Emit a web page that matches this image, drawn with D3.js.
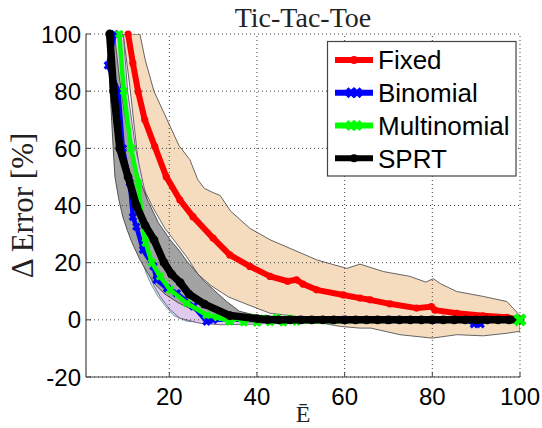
<!DOCTYPE html>
<html><head><meta charset="utf-8">
<script src="https://cdn.jsdelivr.net/npm/d3@7"></script>
<style>body{margin:0;background:#fff}</style>
</head><body>
<svg id="chart" width="542" height="428"></svg>
<script>
// ---------- data ----------
const chartTitle = "Tic-Tac-Toe";
const xLabel = "Ē";
const yLabel = "Δ Error [%]";
const xTicks = [20, 40, 60, 80, 100];
const yTicks = [-20, 0, 20, 40, 60, 80, 100];
const seriesNames = ["Fixed", "Binomial", "Multinomial", "SPRT"];

// Fixed
const fixedX = [10.6, 11.7, 12.9, 14.4, 16.7, 19.3, 22.4, 25.4, 30, 33.8, 38.4, 43, 47, 49, 50.5, 53.6, 59.7, 63.5, 65.8, 70.3, 76.4, 79.8, 80.6, 85.6, 91.6, 97, 100];
const fixedY = [100, 89.8, 79.8, 70, 60.6, 50.1, 42, 36.1, 28.6, 22.7, 18.7, 15.2, 13.5, 14, 12.5, 10.5, 8.7, 7.6, 7, 5.6, 4.1, 4.6, 3.4, 2.3, 1.4, 0.9, 0];
const fixedUpX = [13.3, 14.5, 16.5, 19.5, 22.2, 24.7, 26.5, 28, 30, 31.6, 34, 38.4, 43, 48.3, 53.6, 57, 60.5, 63.5, 68.8, 74.9, 78.5, 80.2, 82, 85.6, 91.6, 97, 99.5, 100];
const fixedUpY = [100, 91, 80, 70, 61, 56, 49, 46, 44.5, 43.5, 38, 32, 28, 24.5, 21, 19.5, 18, 19.5, 16.9, 15.2, 13.2, 14.4, 12.5, 9.9, 8.2, 6.4, 2.3, 1.5];
const fixedLoX = [9.5, 11, 12.6, 13.6, 16, 19, 21.5, 24, 26.5, 29.5, 33.5, 38.4, 43, 49, 55, 59, 63.5, 66, 72.6, 80, 85.6, 91.6, 97, 100];
const fixedLoY = [100, 81.6, 59.5, 47.8, 40, 32, 27, 22, 16, 12, 8, 5, 2.3, 1.2, -1.2, -2.3, -2.9, -2.9, -5.2, -6.4, -5.2, -5.6, -4.7, -4];

// Binomial
const binX = [7.5, 6, 8.4, 9.4, 11, 11.7, 12.5, 14, 16.4, 17.1, 19.5, 21.7, 25.5, 28.5, 30, 40, 50, 60, 70, 80, 88, 89.5, 91, 92, 100];
const binY = [100, 89, 80, 60, 48, 36, 32.6, 24.5, 18.7, 14, 11, 9.3, 4.7, -0.6, 0, 0, 0, 0, 0, 0, 0, -1.5, -1.5, 0, 0];
const binUpX = [8.5, 9.8, 11.5, 13.5, 15, 17, 19.5, 22.5, 26, 30, 35, 100];
const binUpY = [100, 80, 60, 45, 35, 25, 17, 10, 5, 1.5, 0.5, 0.5];
const binLoX = [7, 8, 9.5, 11, 12.5, 13.5, 14.8, 16, 17.3, 19, 21, 24, 30, 100];
const binLoY = [100, 80, 60, 45, 30, 22, 16, 12, 8.5, 5, 1.5, -0.5, -1.2, -0.5];

// Multinomial
const multX = [8.6, 9.6, 11.3, 12.9, 13.8, 14.6, 16, 17.9, 20.2, 24, 28.5, 31, 33.8, 35.5, 37, 38.5, 40, 41.5, 43, 44.5, 46, 47.5, 49, 100];
const multY = [100, 80, 60, 47.8, 35, 27, 20, 15.2, 10.5, 5.8, 1.7, 0.9, -0.6, 0.6, -0.9, 0.7, -1, 0.5, -0.8, 0.7, -0.9, 0.4, -0.6, 0];
const multUpX = [9.5, 10.5, 12.3, 14, 15.5, 17.5, 19.5, 22, 25, 29, 34, 50];
const multUpY = [100, 80, 60, 48, 38, 28, 21, 14, 8, 3.5, 1, 0.5];
const multLoX = [7.5, 8.2, 9.5, 11, 12.8, 14.8, 16.5, 17.9, 20.2, 22.4, 27, 31.6, 40, 50];
const multLoY = [100, 80, 60, 45, 30, 18, 12, 8.2, 3.5, 0.6, -1.2, -1.7, -1.5, -0.5];

// SPRT
const sprtX = [6.4, 7.3, 8.7, 10.6, 12.5, 14.5, 16.5, 18.8, 20.5, 22.5, 24.5, 28, 33.8, 40, 42.5, 45, 47.5, 50, 52.5, 55, 57.5, 60, 62.5, 65, 67.5, 70, 72.5, 75, 77.5, 80, 82.5, 85, 87.5, 90, 92.5, 95, 97.5, 100];
const sprtY = [100, 80, 60, 50, 40, 33, 28, 20, 16, 13, 9, 5.5, 1.5, 0.4, 0.1, 0, 0, 0, 0, 0, 0, 0, 0, 0, 0, 0, 0, 0, 0, 0, 0, 0, 0, 0, 0, 0, 0, 0];
const sprtUpX = [7.5, 8.6, 10, 11.5, 13, 15, 17.5, 20.2, 22.4, 24, 28, 33, 36, 40, 50, 100];
const sprtUpY = [100, 85, 70, 60, 50, 42, 34, 28, 24, 20.5, 13.5, 6.5, 3, 1.5, 0.8, 0.5];
const sprtLoX = [5.8, 6.5, 7.2, 7.6, 8.5, 9.4, 10.5, 11.5, 13.3, 15.2, 17, 19, 22, 26, 30, 35, 45, 55, 100];
const sprtLoY = [100, 80, 60, 50, 42, 36, 31, 27, 21, 16, 12, 9, 6, 3, 1, -0.5, -1.2, -0.8, -0.5];

// ---------- drawing ----------
const svg = d3.select("#chart");
const plot = {l: 86, r: 520, t: 34, b: 377};
const x = d3.scaleLinear().domain([1, 100]).range([plot.l, plot.r]);
const y = d3.scaleLinear().domain([-20, 100]).range([plot.b, plot.t]);
const sans = "Arial, 'Liberation Sans', Helvetica, sans-serif";
const serif = "'Times New Roman', 'Liberation Serif', Times, serif";

svg.append("defs").append("clipPath").attr("id", "clip")
  .append("rect").attr("x", plot.l).attr("y", plot.t)
  .attr("width", plot.r - plot.l).attr("height", plot.b - plot.t);

const zip = (xs, ys) => xs.map((v, i) => [v, ys[i]]);
const line = d3.line().x(d => x(d[0])).y(d => y(d[1]));

const bands = [
  {up: zip(fixedUpX, fixedUpY), lo: zip(fixedLoX, fixedLoY), fill: "#F5DCBE", stroke: "#555"},
  {up: zip(binUpX, binUpY), lo: zip(binLoX, binLoY), fill: "#C6EEF2", stroke: "#6a8a90"},
  {up: zip(multUpX, multUpY), lo: zip(multLoX, multLoY), fill: "#E0CBEF", stroke: "#6a5a78"},
  {up: zip(sprtUpX, sprtUpY), lo: zip(sprtLoX, sprtLoY), fill: "#A3A3A3", stroke: "#444"}
];
const gb = svg.append("g").attr("clip-path", "url(#clip)");
bands.forEach(b => {
  gb.append("path")
    .attr("d", line(b.up.concat(b.lo.slice().reverse())) + "Z")
    .attr("fill", b.fill).attr("stroke", b.stroke).attr("stroke-width", 0.9);
});

// grid (dotted), incl. top and right borders
const gg = svg.append("g").attr("stroke", "#444").attr("stroke-width", 1)
  .attr("stroke-dasharray", "1,3");
xTicks.forEach(t => gg.append("line").attr("x1", x(t)).attr("x2", x(t))
  .attr("y1", plot.b).attr("y2", plot.t));
yTicks.forEach(t => gg.append("line").attr("x1", plot.l).attr("x2", plot.r)
  .attr("y1", y(t)).attr("y2", y(t)));

// series lines + markers
const xMark = s => `M${-s},${-s}L${s},${s}M${-s},${s}L${s},${-s}`;
const series = [
  {name: "Fixed", pts: zip(fixedX, fixedY), color: "#FF0000", w: 6, mark: "dot", ms: 3.6},
  {name: "Binomial", pts: zip(binX, binY), color: "#0000FF", w: 4.5, mark: "x", ms: 3.2},
  {name: "Multinomial", pts: zip(multX, multY), color: "#00FF00", w: 4.5, mark: "x", ms: 3.2},
  {name: "SPRT", pts: zip(sprtX, sprtY), color: "#000000", w: 7.5, mark: "dot", ms: 4.4}
];
series.forEach(s => {
  const g = svg.append("g");
  g.append("path").attr("d", line(s.pts)).attr("fill", "none")
    .attr("stroke", s.color).attr("stroke-width", s.w)
    .attr("stroke-linejoin", "round").attr("clip-path", "url(#clip)");
  s.pts.forEach(p => {
    if (s.mark === "dot") {
      g.append("circle").attr("cx", x(p[0])).attr("cy", y(p[1])).attr("r", s.ms).attr("fill", s.color);
    } else {
      g.append("path").attr("transform", `translate(${x(p[0])},${y(p[1])})`)
        .attr("d", xMark(s.ms)).attr("stroke", s.color).attr("stroke-width", 3.2)
        .attr("fill", "none");
    }
  });
});
// Multinomial end marker (sits on top at E = 100)
const mEnd = series[2].pts[series[2].pts.length - 1];
svg.append("path").attr("transform", `translate(${x(mEnd[0])},${y(mEnd[1])})`)
  .attr("d", xMark(5)).attr("stroke", "#00FF00").attr("stroke-width", 4.5).attr("fill", "none");

// axes (left & bottom only)
const axCol = "#444";
svg.append("line").attr("x1", plot.l).attr("x2", plot.l).attr("y1", plot.t).attr("y2", plot.b)
  .attr("stroke", axCol).attr("stroke-width", 1.2);
svg.append("line").attr("x1", plot.l).attr("x2", plot.r).attr("y1", plot.b).attr("y2", plot.b)
  .attr("stroke", axCol).attr("stroke-width", 1.2);
xTicks.forEach(t => {
  svg.append("line").attr("x1", x(t)).attr("x2", x(t)).attr("y1", plot.b).attr("y2", plot.b - 5)
    .attr("stroke", axCol);
  svg.append("text").attr("x", x(t)).attr("y", 405).attr("text-anchor", "middle")
    .attr("font-family", sans).attr("font-size", 24).attr("fill", "#000").text(t);
});
yTicks.forEach(t => {
  svg.append("line").attr("x1", plot.l).attr("x2", plot.l + 5).attr("y1", y(t)).attr("y2", y(t))
    .attr("stroke", axCol);
  svg.append("text").attr("x", 81).attr("y", y(t)).attr("dy", "0.36em").attr("text-anchor", "end")
    .attr("font-family", sans).attr("font-size", 24).attr("fill", "#000").text(t);
});

// title & labels
svg.append("text").attr("x", (plot.l + plot.r) / 2).attr("y", 27).attr("text-anchor", "middle")
  .attr("font-family", serif).attr("font-size", 28).attr("fill", "#222").text(chartTitle);
svg.append("text").attr("x", (plot.l + plot.r) / 2).attr("y", 422).attr("text-anchor", "middle")
  .attr("font-family", serif).attr("font-size", 24).attr("fill", "#222").text(xLabel);
svg.append("text").attr("transform", `translate(33,${(plot.t + plot.b) / 2}) rotate(-90)`)
  .attr("text-anchor", "middle").attr("font-family", serif).attr("font-size", 31)
  .attr("fill", "#222").text(yLabel);

// legend
const lg = svg.append("g");
lg.append("rect").attr("x", 327.5).attr("y", 41.5).attr("width", 188.5).attr("height", 134.5)
  .attr("fill", "#fff").attr("stroke", "#444").attr("stroke-width", 1.2);
const rowY = d3.scalePoint().domain(seriesNames).range([60, 158.3]);
series.forEach(s => {
  const ry = rowY(s.name);
  lg.append("line").attr("x1", 335).attr("x2", 373).attr("y1", ry).attr("y2", ry)
    .attr("stroke", s.color).attr("stroke-width", 6);
  if (s.mark === "dot") {
    lg.append("circle").attr("cx", 354).attr("cy", ry).attr("r", 4).attr("fill", s.color);
  } else {
    lg.append("path").attr("transform", `translate(351,${ry})`).attr("d", xMark(4))
      .attr("stroke", s.color).attr("stroke-width", 4);
    lg.append("path").attr("transform", `translate(357,${ry})`).attr("d", xMark(4))
      .attr("stroke", s.color).attr("stroke-width", 4);
  }
  lg.append("text").attr("x", 378).attr("y", ry).attr("dy", "0.36em")
    .attr("font-family", sans).attr("font-size", 26).attr("fill", "#000").text(s.name);
});
</script>
</body></html>
